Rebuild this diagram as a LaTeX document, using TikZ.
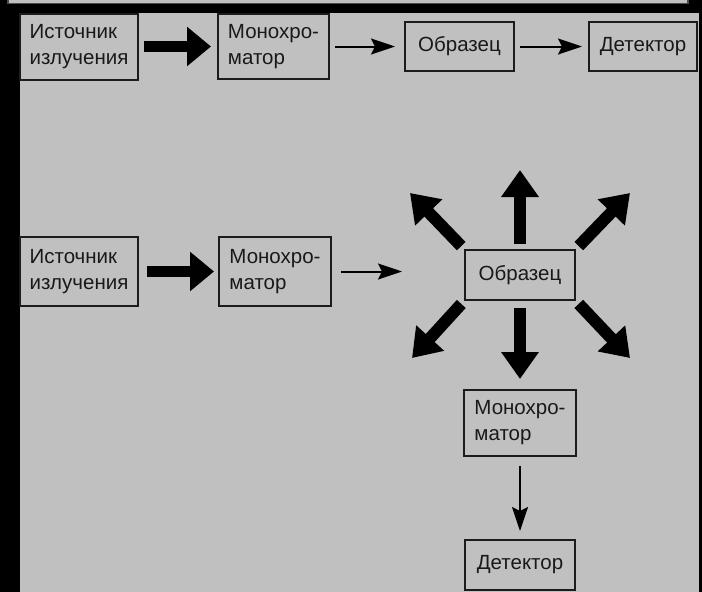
\documentclass[tikz,border=0pt]{standalone}
\usepackage{xcolor}
\usepackage{fontspec}
\setmainfont{Liberation Sans}
\usepackage{tikz}
\usetikzlibrary{arrows.meta}
\definecolor{panelgray}{RGB}{192,192,192}
\definecolor{boxline}{RGB}{28,28,28}
\tikzset{
  block/.style={draw=boxline, line width=2pt, fill=panelgray, align=left,
    inner sep=0pt, text=black!90, font=\fontsize{20.5}{26}\selectfont},
  fatarrow/.style={line width=11pt, -{Triangle[length=24pt, width=38pt]},
    shorten <=6pt, shorten >=6pt},
  thinarrow/.style={line width=2pt, -{Stealth[length=24pt, width=16pt, inset=4pt]},
    shorten <=6pt, shorten >=7pt},
  rayarrow/.style={line width=12pt, -{Triangle[length=27pt, width=36pt]},
    shorten <=4pt}
}

\begin{document}
\begin{tikzpicture}[x=1pt, y=-1pt]
  \useasboundingbox (0,0) rectangle (702,592);
  % Frame: black surround, strip of the panel above, grey panel
  \fill[black] (0,0) rectangle (702,592);
  \draw[fill=panelgray, draw=black!70, line width=1.5pt] (8,-10) rectangle (688,3.5);
  \fill[panelgray] (20,13) rectangle (699,592);

  % Upper scheme: source -> monochromator -> sample -> detector
  \node[block, minimum width=118pt, minimum height=66pt] (src1) at (79,46.5) {Источник\\излучения};
  \node[block, minimum width=111pt, minimum height=65pt] (mono1) at (273.5,46.5) {Монохро-\\матор};
  \node[block, minimum width=109pt, minimum height=49pt] (samp1) at (459.5,46.5) {Образец};
  \node[block, minimum width=108pt, minimum height=49pt] (det1) at (643,46.5) {Детектор};

  \draw[fatarrow, shorten <=5pt] (src1) -- (mono1);
  \draw[thinarrow, shorten <=5pt, shorten >=9pt] (mono1) -- (samp1);
  \draw[thinarrow, shorten <=5pt, shorten >=6pt] (samp1) -- (det1);

  % Lower scheme: light scattered by the sample in all directions
  \node[block, minimum width=118pt, minimum height=69pt] (src2) at (79,271.5) {Источник\\излучения};
  \node[block, minimum width=112pt, minimum height=69pt] (mono2) at (275,271.5) {Монохро-\\матор};
  \node[block, minimum width=110pt, minimum height=50pt] (samp2) at (520,275) {Образец};
  \node[block, minimum width=112pt, minimum height=66pt] (mono3) at (520,423) {Монохро-\\матор};
  \node[block, minimum width=110pt, minimum height=50pt] (det2) at (520,565) {Детектор};

  \coordinate (beam) at (402,271.5);
  \coordinate (rayN) at (520,170);
  \coordinate (rayNW) at (410,193);
  \coordinate (rayNE) at (630,193);
  \coordinate (raySW) at (412,358);
  \coordinate (raySE) at (630,358);

  \draw[fatarrow, shorten <=8pt, shorten >=4pt] (src2) -- (mono2);
  \draw[thinarrow, shorten <=9pt, shorten >=0pt] (mono2.east |- beam) -- (beam);

  \draw[rayarrow, shorten <=5pt] (samp2.north) -- (rayN);
  \draw[rayarrow] (samp2.north west) -- (rayNW);
  \draw[rayarrow] (samp2.north east) -- (rayNE);
  \draw[rayarrow] (samp2.south west) -- (raySW);
  \draw[rayarrow] (samp2.south east) -- (raySE);
  \draw[rayarrow, shorten <=7pt, shorten >=10pt] (samp2) -- (mono3);

  \draw[thinarrow, shorten <=9pt, shorten >=8pt] (mono3) -- (det2);
\end{tikzpicture}
\end{document}
